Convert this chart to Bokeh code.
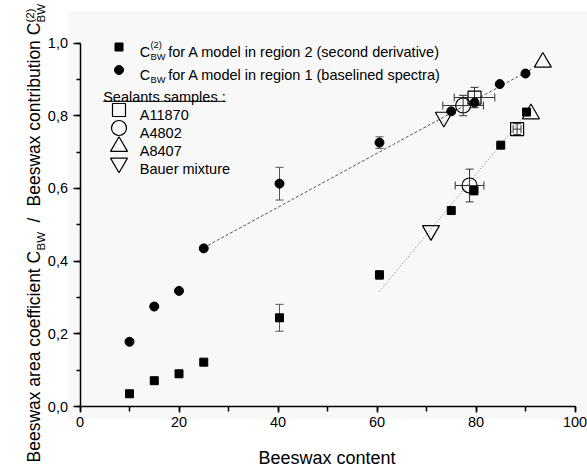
from math import pi
from bokeh.plotting import figure
from bokeh.models import (Range1d, SingleIntervalTicker, CustomJSTickFormatter, Label,
                          Whisker, TeeHead, ColumnDataSource, BoxAnnotation)
from bokeh.embed import file_html
from bokeh.resources import INLINE

# ---------------- data ----------------
region2_x = [10, 15, 20, 25, 40.3, 60.5, 75, 79.6, 85, 90.2]
region2_y = [0.035, 0.071, 0.090, 0.122, 0.244, 0.362, 0.539, 0.594, 0.719, 0.810]
region2_err = [0, 0, 0, 0, 0.037, 0.012, 0, 0.012, 0, 0]

region1_x = [10, 15, 20, 25, 40.3, 60.5, 75, 79.7, 84.8, 90]
region1_y = [0.178, 0.275, 0.318, 0.435, 0.613, 0.726, 0.812, 0.836, 0.887, 0.916]
region1_err = [0, 0, 0, 0, 0.045, 0.016, 0, 0, 0, 0]

a11870_x = [79.7, 88.3]
a11870_y = [0.850, 0.763]
a11870_xerr = [4.1, 0.8]
a11870_yerr = [0.028, 0.015]

a4802_x = [77.4, 78.7]
a4802_y = [0.828, 0.608]
a4802_xerr = [4.1, 2.9]
a4802_yerr = [0.028, 0.045]

a8407_x = [93.5, 91.1]
a8407_y = [0.947, 0.805]

bauer_x = [73.5, 70.9]
bauer_y = [0.796, 0.484]

fit_region1_x = [25, 91.5]
fit_region1_y = [0.437, 0.930]
fit_region2_x = [60.5, 91.0]
fit_region2_y = [0.316, 0.820]

x_axis_bounds = (0, 100)
y_axis_bounds = (0, 1.0)
x_label = "Beeswax content"
legend_texts = ["for A model in region 2 (second derivative)",
                "for A model in region 1 (baselined spectra)",
                "Sealants samples :", "A11870", "A4802", "A8407", "Bauer mixture"]

# ---------------- layout ----------------
FONT = "Liberation Sans"
W, H = 587, 467
X0_PX, XS = 79.5, 4.95      # page x of data x=0, px per unit
Y0_PX, YS = 406.0, 363.5    # page y of data y=0, px per unit

def px2x(px):
    return (px - X0_PX) / XS

def px2y(py):
    return (Y0_PX - py) / YS

p = figure(width=W, height=H, output_backend="svg", toolbar_location=None,
           x_range=Range1d(px2x(0), px2x(W)), y_range=Range1d(px2y(H), px2y(0)),
           min_border=0, min_border_left=0, min_border_right=0,
           min_border_top=0, min_border_bottom=0)
p.background_fill_color = "white"
p.border_fill_color = "white"
p.outline_line_color = None
p.xgrid.visible = False
p.ygrid.visible = False

# light grey plot area as in the reference
p.add_layout(BoxAnnotation(left=px2x(68), right=px2x(W), bottom=px2y(419), top=px2y(11),
                           fill_color="#f8f8f8", fill_alpha=1, line_alpha=0, level="underlay"))

for ax in (p.xaxis[0], p.yaxis[0]):
    ax.fixed_location = 0
    ax.axis_line_width = 1.5
    ax.axis_line_color = "black"
    ax.major_tick_line_width = 1.5
    ax.minor_tick_line_width = 1.5
    ax.major_tick_in = 0
    ax.minor_tick_in = 0
    ax.major_label_text_font = FONT
    ax.major_label_text_font_size = "14.5px"
    ax.major_label_text_color = "black"

p.xaxis.bounds = x_axis_bounds
p.yaxis.bounds = y_axis_bounds
p.xaxis.ticker = SingleIntervalTicker(interval=20, num_minor_ticks=2)
p.yaxis.ticker = SingleIntervalTicker(interval=0.2, num_minor_ticks=2)
p.xaxis.major_tick_out = 6
p.xaxis.minor_tick_out = 5
p.yaxis.major_tick_out = 7
p.yaxis.minor_tick_out = 4
p.xaxis.major_label_standoff = 4
p.yaxis.major_label_standoff = 5
p.yaxis.formatter = CustomJSTickFormatter(code="return tick.toFixed(1).replace('.', ',');")

# fit lines
p.line(fit_region1_x, fit_region1_y, line_color="#555555", line_width=1, line_dash="3 2")
p.line(fit_region2_x, fit_region2_y, line_color="#777777", line_width=1, line_dash="1 2")

# error bars
def bars(xs, ys, es, dim, color="#333333"):
    sel = [(x, y, e) for x, y, e in zip(xs, ys, es) if e > 0]
    if dim == "height":
        d = dict(base=[s[0] for s in sel], upper=[s[1] + s[2] for s in sel],
                 lower=[s[1] - s[2] for s in sel])
    else:
        d = dict(base=[s[1] for s in sel], upper=[s[0] + s[2] for s in sel],
                 lower=[s[0] - s[2] for s in sel])
    p.add_layout(Whisker(source=ColumnDataSource(d), base="base", upper="upper", lower="lower",
                         dimension=dim, line_color=color, line_width=1,
                         upper_head=TeeHead(size=8, line_color=color, line_width=1),
                         lower_head=TeeHead(size=8, line_color=color, line_width=1)))

# open sealant markers
p.scatter(a11870_x, a11870_y, marker="square", size=13, fill_alpha=0, line_color="black", line_width=1.2)
p.scatter(a4802_x, a4802_y, marker="circle", size=15, fill_alpha=0, line_color="black", line_width=1.2)
p.scatter(a8407_x, a8407_y, marker="triangle", size=17, fill_alpha=0, line_color="black", line_width=1.2)
p.scatter(bauer_x, bauer_y, marker="inverted_triangle", size=17, fill_alpha=0, line_color="black", line_width=1.2)

bars(a11870_x, a11870_y, a11870_yerr, "height")
bars(a11870_x, a11870_y, a11870_xerr, "width")
bars(a4802_x, a4802_y, a4802_yerr, "height")
bars(a4802_x, a4802_y, a4802_xerr, "width")
bars(region2_x, region2_y, region2_err, "height", "#555555")
bars(region1_x, region1_y, region1_err, "height", "#555555")

# filled series
p.scatter(region2_x, region2_y, marker="square", size=8, fill_color="black", line_color="black")
p.scatter(region1_x, region1_y, marker="circle", size=9, fill_color="black", line_color="black")

# ---------------- text helpers ----------------
def txt(px, py, text, size, angle=0.0, align="left"):
    p.add_layout(Label(x=px2x(px), y=px2y(py), text=text, text_font=FONT,
                       text_font_size=f"{size}px", text_color="black",
                       text_baseline="alphabetic", text_align=align, angle=angle))

# legend
MX = 118.5
p.scatter([px2x(MX)], [px2y(46.5)], marker="square", size=8, fill_color="black", line_color="black")
p.scatter([px2x(MX)], [px2y(69.5)], marker="circle", size=9, fill_color="black", line_color="black")
txt(139.3, 51.7, "C", 14.5)
txt(150.0, 56.0, "BW", 9.3)
txt(150.0, 44.5, "(2)", 9.3)
txt(167.7, 51.7, legend_texts[0], 14.5)
txt(139.3, 74.5, "C", 14.5)
txt(150.0, 79.0, "BW", 9.3)
txt(167.7, 74.5, legend_texts[1], 14.5)
txt(102.7, 96.8, legend_texts[2], 14.5)
p.line([px2x(102.7), px2x(225.3)], [px2y(100.8), px2y(100.8)], line_color="black", line_width=1)
p.scatter([px2x(MX)], [px2y(109.5)], marker="square", size=13, fill_alpha=0, line_color="black", line_width=1.2)
p.scatter([px2x(MX)], [px2y(127.5)], marker="circle", size=15, fill_alpha=0, line_color="black", line_width=1.2)
p.scatter([px2x(MX)], [px2y(146)], marker="triangle", size=17, fill_alpha=0, line_color="black", line_width=1.2)
p.scatter([px2x(MX)], [px2y(162.5)], marker="inverted_triangle", size=17, fill_alpha=0, line_color="black", line_width=1.2)
txt(139.3, 114.5, legend_texts[3], 14.5)
txt(139.3, 132.3, legend_texts[4], 14.5)
txt(139.3, 150.0, legend_texts[5], 14.5)
txt(139.3, 168.3, legend_texts[6], 14.5)

# x-axis title
txt(326.5, 457, x_label, 18, align="center")

# y-axis title (rotated, with sub/superscripts)
A = pi / 2
txt(33.5, 462, "Beeswax area coefficient C", 17.5, angle=A)
txt(40.0, 250, "BW", 11.5, angle=A)
txt(33.5, 222, "/", 17.5, angle=A)
txt(33.5, 206, "Beeswax contribution C", 17.5, angle=A)
txt(40.0, 22, "BW", 11.5, angle=A)
txt(29.0, 22, "(2)", 11.5, angle=A)

open("out.html", "w").write(file_html(p, INLINE))
